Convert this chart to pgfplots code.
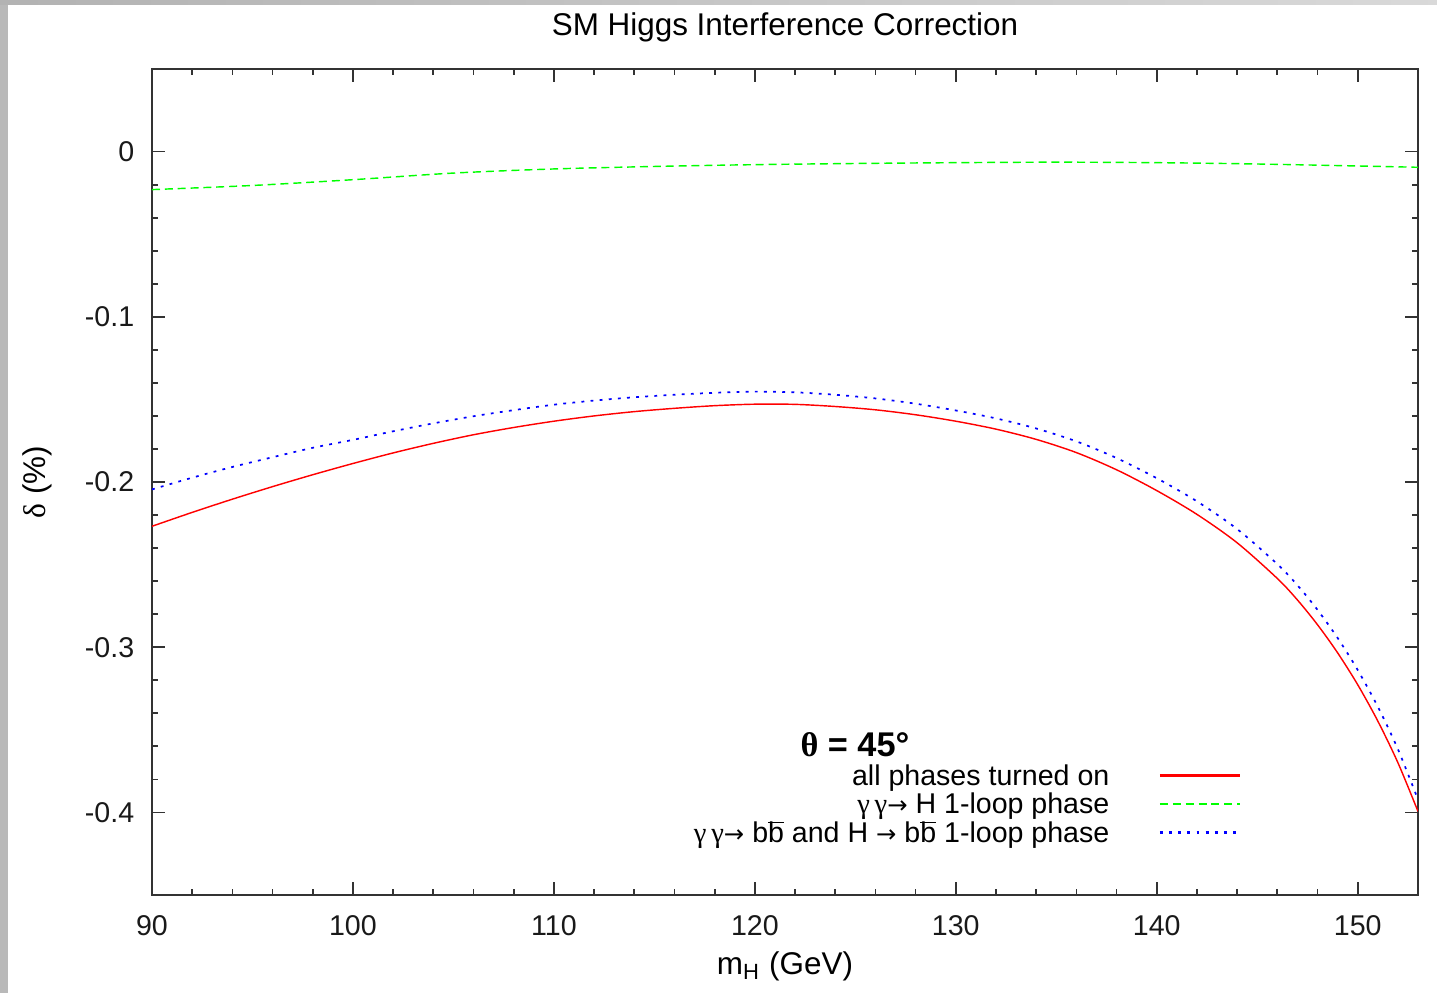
\documentclass[border=0pt]{standalone}
\usepackage{fontspec}
\setmainfont{Liberation Sans}
\newfontfamily\greek{Liberation Serif}
\newfontfamily\arrowfont{DejaVu Sans}
\usepackage{pgfplots}
\pgfplotsset{compat=1.18}
\DeclareRobustCommand\bbar{\setbox0\hbox{b}\rlap{\rule[\dimexpr\ht0-0.45pt\relax]{\wd0}{0.45pt}}b}
\DeclareRobustCommand\rarr{{\arrowfont\fontsize{8.5}{10}\selectfont →}}

\begin{document}
\begin{tikzpicture}
% page frame (1437x993 px at 0.35pt/px)
\fill[white] (-53.2pt,-34.3pt) rectangle (449.75pt,313.25pt);
\fill[gray!55] (-53.2pt,-34.3pt) rectangle (-50.4pt,313.25pt);
\shade[left color=gray!60, right color=gray!30] (-53.2pt,311.5pt) rectangle (449.75pt,313.25pt);
\begin{axis}[
    at={(0pt,0pt)}, anchor=south west,
    scale only axis,
    width=443.1pt, height=289.1pt,
    xmin=90, xmax=153,
    ymin=-0.45, ymax=0.05,
    xtick={90,100,...,150},
    ytick={-0.4,-0.3,-0.2,-0.1,0},
    minor x tick num=4, minor y tick num=4,
    tick align=inside,
    major tick length=4.5pt, minor tick length=2.2pt,
    axis line style={line width=0.7pt, black!80},
    every tick/.style={line width=0.6pt, black!80},
    tick label style={font=\fontsize{10}{12}\selectfont, black!90},
    /pgf/number format/assume math mode=true,
    scaled y ticks=false,
    yticklabel style={xshift=-2.7pt, /pgf/number format/fixed},
    xticklabel style={yshift=-3.7pt},
    title={SM Higgs Interference Correction},
    title style={at={(rel axis cs:0.5,1)}, anchor=base, yshift=5.9pt, font=\fontsize{11}{13}\selectfont},
    xlabel={m\textsubscript{H} (GeV)},
    xlabel style={at={(rel axis cs:0.5,0)}, anchor=base, yshift=-28pt, font=\fontsize{11}{13}\selectfont},
    ylabel={{\greek δ} (\%)},
    every axis y label/.style={at={(rel axis cs:0,0.5)}, xshift=-40pt, rotate=90, anchor=center, font=\fontsize{11}{13}\selectfont},
]

\addplot[color=red, line width=0.5pt, smooth] coordinates {
    (90,-0.2268)(92,-0.2184)(94,-0.2104)(96,-0.2028)(98,-0.1956)(100,-0.1888)
    (102,-0.1824)(104,-0.1766)(106,-0.1714)(108,-0.1670)(110,-0.1632)(112,-0.1600)
    (114,-0.1574)(116,-0.1554)(118,-0.1538)(120,-0.1529)(122,-0.1530)(124,-0.1543)
    (126,-0.1563)(128,-0.1593)(130,-0.1632)(132,-0.1680)(134,-0.1742)(136,-0.1822)
    (138,-0.1926)(140,-0.2052)(142,-0.2196)(144,-0.2368)(146,-0.2584)(147,-0.2714)
    (148,-0.2864)(149,-0.3034)(150,-0.3227)(151,-0.3447)(152,-0.3699)(153,-0.3994)
};

\addplot[color=green, line width=0.5pt, smooth, dash pattern=on 2.8pt off 1.7pt] coordinates {
    (90,-0.023)(95,-0.0205)(100,-0.017)(105,-0.013)(110,-0.0105)(115,-0.009)
    (120,-0.0079)(125,-0.0072)(130,-0.0067)(135,-0.0064)(140,-0.0067)(145,-0.0075)
    (150,-0.0087)(153,-0.0095)
};

\addplot[color=blue, line width=0.6pt, smooth, dash pattern=on 1pt off 2.2pt] coordinates {
    (90,-0.2045)(92,-0.1974)(94,-0.1909)(96,-0.1850)(98,-0.1793)(100,-0.1745)
    (102,-0.1693)(104,-0.1645)(106,-0.1602)(108,-0.1565)(110,-0.1532)(112,-0.1507)
    (114,-0.1487)(116,-0.1472)(118,-0.1460)(120,-0.1453)(122,-0.1457)(124,-0.1472)
    (126,-0.1494)(128,-0.1526)(130,-0.1567)(132,-0.1615)(134,-0.1676)(136,-0.1754)
    (138,-0.1855)(140,-0.1977)(142,-0.2117)(144,-0.2285)(146,-0.2497)(147,-0.2625)
    (148,-0.2774)(149,-0.2944)(150,-0.3138)(151,-0.3360)(152,-0.3617)(153,-0.3922)
};

% key
\node[font=\fontsize{12}{14}\selectfont\bfseries] at (axis cs:124.98,-0.359) {{\greek θ} = 45°};
\begin{scope}[every node/.style={anchor=base east, inner sep=0pt, font=\fontsize{10}{12}\selectfont}]
\node at (axis cs:137.67,-0.3838) {all phases turned on};
\node at (axis cs:137.67,-0.4007) {{\greek γ\,γ}\rarr{} H 1-loop phase};
\node at (axis cs:137.67,-0.4183) {{\greek γ\,γ}\rarr{} b\bbar{} and H \rarr{} b\bbar{} 1-loop phase};
\end{scope}
\draw[red, line width=0.75pt] (axis cs:140.16,-0.3777) -- (axis cs:144.14,-0.3777);
\draw[green, line width=0.75pt, dash pattern=on 2.8pt off 1.7pt] (axis cs:140.16,-0.3947) -- (axis cs:144.14,-0.3947);
\draw[blue, line width=0.75pt, dash pattern=on 1pt off 2.2pt] (axis cs:140.16,-0.4122) -- (axis cs:144.14,-0.4122);
\end{axis}
\end{tikzpicture}
\end{document}
